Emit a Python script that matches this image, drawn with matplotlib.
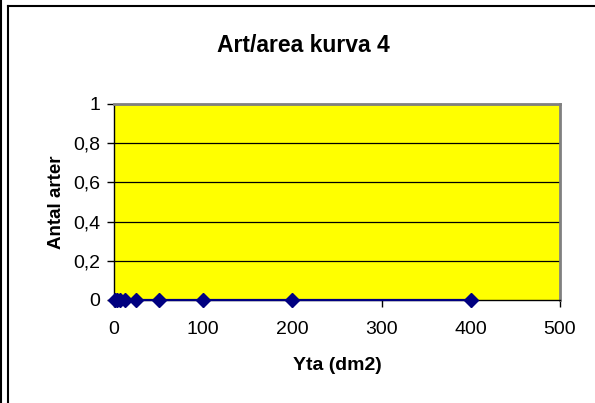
import matplotlib.pyplot as plt
from matplotlib.lines import Line2D

# --- data ---
yta = [1, 3.125, 6.25, 12.5, 25, 50, 100, 200, 400]
arter = [0, 0, 0, 0, 0, 0, 0, 0, 0]
x_ticks = [0, 100, 200, 300, 400, 500]
y_ticks = [0, 0.2, 0.4, 0.6, 0.8, 1.0]
y_labels = ['0', '0,2', '0,4', '0,6', '0,8', '1']

plt.rcParams['font.family'] = ['Liberation Sans', 'DejaVu Sans']

W, H = 595, 403
fig = plt.figure(figsize=(W / 100, H / 100), dpi=100)

# plot area in pixels: left 114, right 560, top 104, bottom 300
ax = fig.add_axes([114 / W, 1 - 300 / H, (560 - 114) / W, (300 - 104) / H])
ax.set_facecolor('#FFFF00')

for yv in y_ticks[1:]:
    ax.axhline(yv, color='black', lw=0.9, zorder=1)

ax.plot(yta, arter, color='#000080', lw=1.6, marker='D', markersize=7,
        markerfacecolor='#000080', markeredgecolor='#000080', zorder=3, clip_on=False)

ax.set_xlim(0, 500)
ax.set_ylim(0, 1)
ax.set_xticks(x_ticks)
ax.set_yticks(y_ticks)
ax.set_yticklabels(y_labels)
ax.tick_params(direction='out', length=5, width=1, labelsize=14, pad=5)
ax.tick_params(axis='x', pad=10)

for side in ['top', 'right']:
    ax.spines[side].set_color('#808080')
    ax.spines[side].set_linewidth(2)
for side in ['left', 'bottom']:
    ax.spines[side].set_color('black')
    ax.spines[side].set_linewidth(1)

ax.set_xlabel('Yta (dm2)', fontsize=14, fontweight='bold', labelpad=14)
ax.set_ylabel('Antal arter', fontsize=13.5, fontweight='bold', labelpad=6)
fig.text(303 / W, 1 - 46 / H, 'Art/area kurva 4', ha='center', va='center',
         fontsize=16.5, fontweight='bold')

# chart borders (outer frame from the spreadsheet)
fig.add_artist(Line2D([1 / W, 1 / W], [0, 1], color='black', lw=1.5, transform=fig.transFigure))
fig.add_artist(Line2D([7.5 / W, 7.5 / W], [0, 1 - 5.5 / H], color='black', lw=1.5, transform=fig.transFigure))
fig.add_artist(Line2D([7.5 / W, 1], [1 - 5.5 / H, 1 - 5.5 / H], color='black', lw=1.5, transform=fig.transFigure))

fig.savefig('out.png', dpi=100)
